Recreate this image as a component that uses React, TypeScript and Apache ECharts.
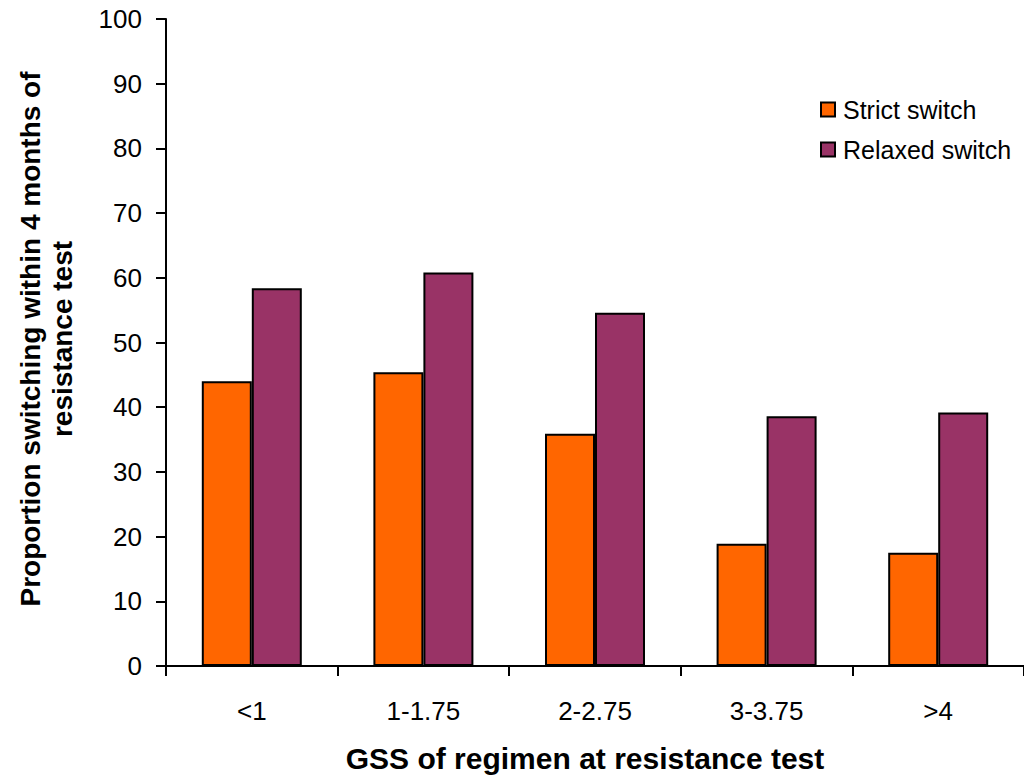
import React, { useEffect, useRef } from "react";
import * as echarts from "echarts";

const categories = ["<1", "1-1.75", "2-2.75", "3-3.75", ">4"];
const strictSwitch = [44.0, 45.4, 35.9, 18.9, 17.5];
const relaxedSwitch = [58.4, 60.8, 54.6, 38.6, 39.2];
const seriesNames = ["Strict switch", "Relaxed switch"];
const yTitle = "Proportion switching within 4 months of\nresistance test";
const xTitle = "GSS of regimen at resistance test";

const FONT = "Liberation Sans";

export default function App() {
  const ref = useRef<HTMLDivElement>(null);
  useEffect(() => {
    if (!ref.current) return;
    const chart = echarts.init(ref.current, null, { renderer: "svg" });
    chart.setOption({
      animation: false,
      backgroundColor: "#ffffff",
      grid: { left: 166, top: 19, width: 862, height: 647, containLabel: false },
      legend: {
        orient: "vertical",
        left: 820,
        top: 97,
        padding: 0,
        itemWidth: 14,
        itemHeight: 14,
        itemGap: 15,
        icon: "rect",
        data: seriesNames,
        textStyle: { fontFamily: FONT, fontSize: 25, color: "#000", lineHeight: 25, padding: [0, 0, 0, 3] },
      },
      xAxis: {
        type: "category",
        data: categories,
        axisLine: { show: true, lineStyle: { color: "#000", width: 2 } },
        axisTick: { show: true, length: 10, lineStyle: { color: "#000", width: 2 } },
        axisLabel: { fontFamily: FONT, fontSize: 26, color: "#000", margin: 32 },
        splitLine: { show: false },
      },
      yAxis: {
        type: "value",
        min: 0,
        max: 100,
        interval: 10,
        axisLine: { show: true, lineStyle: { color: "#000", width: 2 } },
        axisTick: { show: true, length: 10, lineStyle: { color: "#000", width: 2 } },
        axisLabel: { fontFamily: FONT, fontSize: 26, color: "#000", margin: 24 },
        splitLine: { show: false },
      },
      series: [
        {
          name: seriesNames[0],
          type: "bar",
          data: strictSwitch,
          barWidth: 50,
          barGap: "0%",
          itemStyle: { color: "#FF6600", borderColor: "#000", borderWidth: 2 },
        },
        {
          name: seriesNames[1],
          type: "bar",
          data: relaxedSwitch,
          barWidth: 50,
          barGap: "0%",
          itemStyle: { color: "#993366", borderColor: "#000", borderWidth: 2 },
        },
      ],
      graphic: [
        {
          type: "text",
          x: 46,
          y: 339,
          rotation: Math.PI / 2,
          style: {
            text: yTitle,
            fontFamily: FONT,
            fontSize: 28,
            fontWeight: "bold",
            fill: "#000",
            align: "center",
            verticalAlign: "middle",
            lineHeight: 32,
          },
        },
        {
          type: "text",
          x: 585,
          y: 758,
          style: {
            text: xTitle,
            fontFamily: FONT,
            fontSize: 30,
            fontWeight: "bold",
            fill: "#000",
            align: "center",
            verticalAlign: "middle",
          },
        },
      ],
    });
    return () => chart.dispose();
  }, []);
  return (
    <div
      ref={ref}
      style={{ position: "fixed", left: 0, top: 0, width: 1024, height: 776 }}
    />
  );
}
